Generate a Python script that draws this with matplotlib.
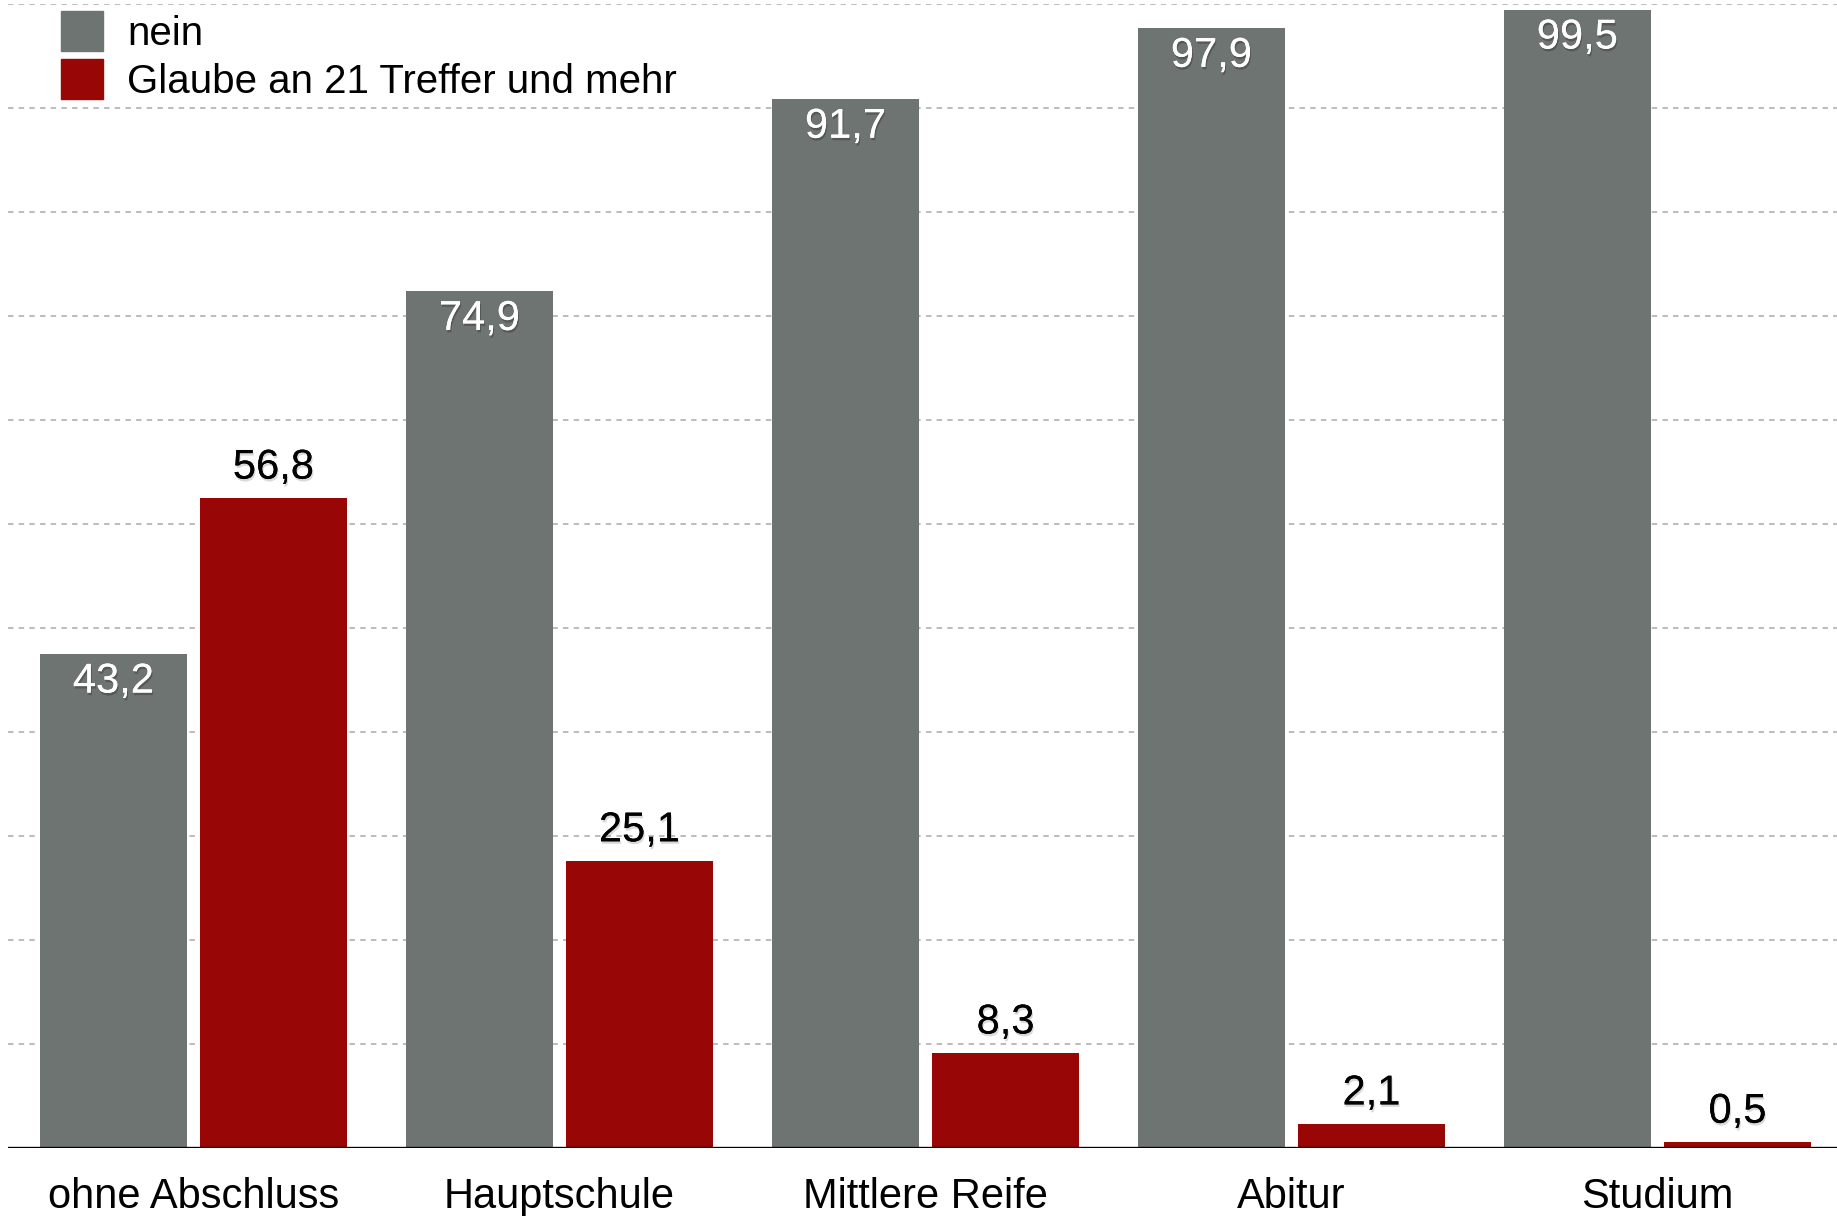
import numpy as np
import matplotlib.pyplot as plt
import matplotlib.patheffects as pe
from matplotlib.patches import Patch

# Anteile in Prozent je Bildungsabschluss
abschluesse = ['ohne Abschluss', 'Hauptschule', 'Mittlere Reife', 'Abitur', 'Studium']
nein = [43.2, 74.9, 91.7, 97.9, 99.5]
glaube_21 = [56.8, 25.1, 8.3, 2.1, 0.5]
legende = ['nein', 'Glaube an 21 Treffer und mehr']

grau = '#6e7471'
rot = '#980606'
plt.rcParams['font.family'] = ['Liberation Sans', 'DejaVu Sans']

fig = plt.figure(figsize=(18.37, 12.16), dpi=100)
ax = fig.add_axes([8 / 1837, 68 / 1216, 1829 / 1837, 1144 / 1216])

x = np.arange(len(abschluesse))
breite = 0.4016
versatz = 0.2186

# gestrichelte Hilfslinien, 11 gleiche Abstände bis 100
for y in np.linspace(0, 100, 12)[1:]:
    ax.axhline(y, color='#bdbdbd', lw=1.45, ls=(0, (2.7, 2.6)), zorder=0)

b1 = ax.bar(x - versatz, nein, breite, color=grau, zorder=2)
b2 = ax.bar(x + versatz, glaube_21, breite, color=rot, zorder=2)

schatten_dunkel = [pe.withSimplePatchShadow(offset=(0.8, -1.8), shadow_rgbFace='#303030', alpha=0.4), pe.Normal()]
schatten_hell = [pe.withSimplePatchShadow(offset=(0.8, -1.8), shadow_rgbFace='#a0a0a0', alpha=0.4), pe.Normal()]

for xi, v in zip(x, nein):
    ax.annotate(f'{v:.1f}'.replace('.', ','), (xi - versatz, v), xytext=(0, -20),
                textcoords='offset points', ha='center', va='center',
                fontsize=30, color='white', path_effects=schatten_dunkel, zorder=3)
for xi, v in zip(x, glaube_21):
    ax.annotate(f'{v:.1f}'.replace('.', ','), (xi + versatz, v), xytext=(0, 22),
                textcoords='offset points', ha='center', va='center',
                fontsize=30, color='black', path_effects=schatten_hell, zorder=3)

# Kategorien unter der Achse
for xi, name in zip(x, abschluesse):
    ax.annotate(name, (xi, 0), xycoords=('data', 'axes fraction'), xytext=(0, -35),
                textcoords='offset points', ha='center', va='center',
                fontsize=30, color='black', annotation_clip=False)

ax.axhline(0, color='black', lw=2.4, zorder=4)

ax.set_xlim(-0.5068, 4.4904)
ax.set_ylim(0, 100)
ax.set_xticks([])
ax.set_yticks([])
for s in ax.spines.values():
    s.set_visible(False)

handles = [Patch(color=grau), Patch(color=rot)]
fig.legend(handles, legende, loc='upper left', bbox_to_anchor=(61 / 1837, 1 - 11 / 1216),
           frameon=False, fontsize=29, handlelength=1.04, handleheight=1.15,
           handletextpad=0.6, labelspacing=0.16, borderpad=0, borderaxespad=0)

fig.savefig('out.png', dpi=100)
